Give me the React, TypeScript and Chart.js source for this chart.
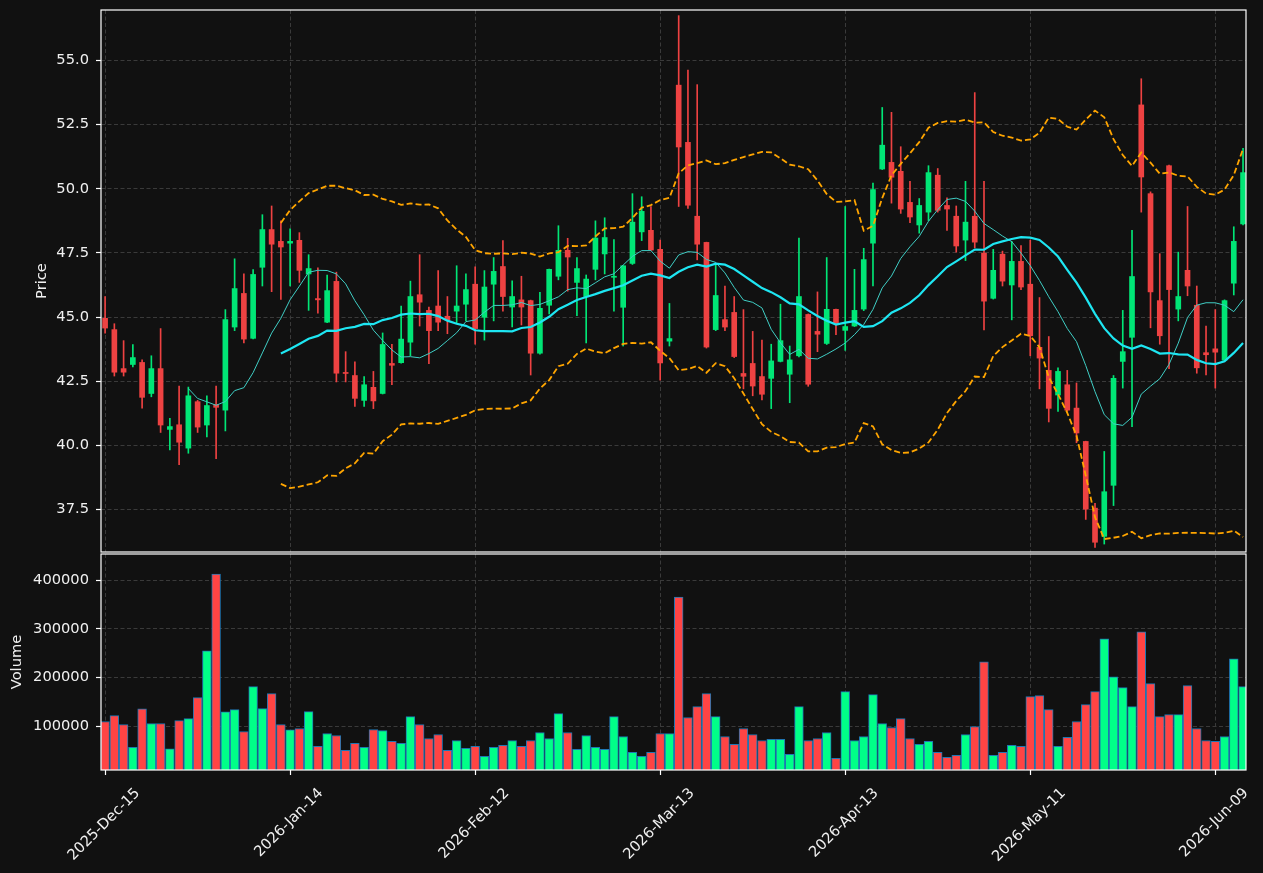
import React, { useEffect, useRef } from 'react';
import { Chart, registerables } from 'chart.js';

Chart.register(...registerables);

// ---------- data ----------
const opens = [
  44.95, 44.51, 42.99, 43.15, 43.23, 42.02, 42.99, 40.62, 40.80, 39.89,
  41.70, 40.79, 41.59, 41.37, 44.61, 45.92, 44.17, 46.94, 48.41, 47.95,
  47.88, 47.99, 46.68, 45.72, 44.80, 46.39, 42.84, 42.72, 41.75, 42.26,
  42.02, 43.19, 43.22, 44.02, 45.87, 45.26, 45.43, 45.03, 45.23, 45.50,
  46.28, 44.99, 46.28, 46.97, 45.39, 45.67, 45.64, 43.59, 45.46, 46.59,
  47.60, 46.35, 45.80, 46.86, 47.46, 46.55, 45.38, 47.09, 48.32, 48.38,
  47.64, 44.06, 54.04, 51.81, 48.93, 47.91, 44.51, 44.90, 45.18, 42.80,
  43.19, 42.68, 42.61, 43.27, 42.77, 43.49, 45.10, 44.44, 43.97, 45.30,
  44.48, 44.65, 45.31, 47.88, 50.77, 51.03, 50.68, 49.47, 48.59, 49.09,
  50.53, 49.35, 48.93, 48.00, 48.93, 47.49, 45.73, 47.45, 46.25, 47.17,
  46.28, 43.82, 42.92, 41.96, 42.36, 41.45, 40.15, 37.55, 36.45, 38.44,
  43.27, 44.21, 53.27, 49.81, 45.64, 50.90, 45.31, 46.82, 45.46, 43.61,
  43.76, 43.32, 46.32, 48.63,
];
const highs = [
  45.80, 44.74, 44.08, 43.93, 43.33, 43.49, 44.55, 41.05, 42.31, 42.27,
  41.75, 41.93, 42.31, 45.29, 47.27, 46.68, 46.85, 48.99, 49.33, 48.75,
  48.44, 48.29, 47.43, 46.92, 46.64, 46.75, 43.65, 43.25, 42.68, 42.88,
  44.38, 43.94, 45.43, 46.40, 47.43, 45.39, 46.81, 45.80, 47.00, 46.68,
  46.96, 46.81, 47.32, 47.98, 46.41, 46.59, 45.66, 45.96, 46.87, 48.56,
  48.07, 47.32, 46.64, 48.75, 48.87, 48.02, 47.00, 49.81, 49.69, 49.31,
  48.00, 45.53, 56.75, 54.63, 54.06, 47.92, 47.09, 46.21, 45.80, 45.29,
  44.44, 44.10, 43.94, 45.50, 43.87, 48.08, 45.12, 45.98, 47.32, 45.31,
  49.31, 46.86, 47.68, 50.22, 53.17, 52.98, 51.64, 50.29, 49.62, 50.90,
  50.79, 49.65, 49.33, 50.29, 53.75, 50.29, 47.64, 47.57, 47.95, 47.79,
  48.00, 45.76, 44.24, 43.02, 42.92, 42.43, 40.16, 37.74, 39.76, 42.72,
  45.26, 48.38, 54.29, 49.88, 47.47, 50.92, 47.53, 49.31, 46.21, 44.65,
  45.29, 45.67, 48.52, 51.58,
];
const lows = [
  44.37, 42.70, 42.70, 43.06, 41.45, 41.89, 40.50, 39.82, 39.24, 39.69,
  40.50, 40.33, 39.48, 40.56, 44.47, 43.99, 44.15, 46.21, 45.99, 45.69,
  46.21, 46.35, 45.26, 45.15, 44.78, 42.47, 42.47, 41.52, 41.52, 41.43,
  42.00, 42.36, 43.20, 43.49, 44.65, 43.18, 44.47, 44.35, 44.78, 44.85,
  43.94, 44.10, 44.85, 45.23, 44.61, 44.69, 42.74, 43.55, 45.12, 46.45,
  46.01, 45.05, 43.99, 46.45, 46.68, 45.23, 43.87, 47.05, 47.98, 47.60,
  42.54, 43.87, 49.31, 49.23, 47.23, 43.79, 44.47, 44.47, 43.42, 42.20,
  41.93, 41.77, 41.43, 43.25, 41.66, 43.45, 42.30, 43.65, 43.93, 44.31,
  43.70, 44.63, 45.25, 46.21, 50.75, 49.44, 49.04, 48.68, 48.27, 48.76,
  49.09, 48.38, 47.53, 47.20, 47.70, 44.50, 45.70, 46.21, 44.89, 46.07,
  43.49, 42.20, 40.91, 41.32, 41.32, 40.10, 37.11, 36.02, 36.15, 37.65,
  42.23, 40.73, 49.09, 44.58, 43.94, 42.99, 44.85, 45.83, 42.81, 42.74,
  42.23, 43.30, 45.86, 48.59,
];
const closes = [
  44.57, 42.85, 42.85, 43.42, 41.87, 42.99, 40.79, 40.73, 40.12, 41.93,
  40.71, 41.55, 41.48, 44.90, 46.11, 44.14, 46.66, 48.41, 47.84, 47.73,
  47.95, 46.82, 46.89, 45.67, 46.03, 42.81, 42.80, 41.83, 42.36, 41.73,
  43.93, 43.12, 44.14, 45.80, 45.58, 44.47, 44.80, 44.88, 45.43, 46.07,
  44.55, 46.17, 46.78, 45.80, 45.80, 45.39, 43.59, 45.34, 46.86, 47.60,
  47.34, 46.89, 46.48, 48.08, 48.10, 46.59, 47.00, 48.70, 49.12, 47.61,
  43.21, 44.16, 51.63, 49.36, 47.84, 43.83, 45.84, 44.61, 43.46, 42.69,
  42.31, 41.99, 43.29, 44.08, 43.33, 45.80, 42.38, 44.33, 45.30, 44.74,
  44.63, 45.26, 47.24, 49.97, 51.70, 50.45, 49.21, 48.90, 49.35, 50.63,
  49.16, 49.21, 47.77, 48.70, 47.92, 45.62, 46.82, 46.40, 47.17, 46.17,
  44.27, 43.40, 41.44, 42.88, 41.37, 40.48, 37.51, 36.22, 38.19, 42.61,
  43.65, 46.58, 50.46, 45.98, 44.27, 46.07, 45.80, 46.21, 43.02, 43.53,
  43.63, 45.64, 47.95, 50.63,
];
const volumes = [
  110200, 122400, 104100, 57100, 136100, 106100, 106100, 54400, 112200, 116300,
  159200, 255100, 412200, 129900, 134700, 89800, 181600, 136700, 167300, 104100,
  93200, 95900, 130600, 59200, 85700, 81600, 51000, 65300, 57100, 93900,
  91800, 69400, 65300, 120400, 104100, 75500, 83700, 51000, 71400, 55100,
  59200, 38800, 57100, 61200, 71400, 59200, 71400, 87800, 75500, 126500,
  87800, 53100, 81600, 57100, 53100, 120400, 79600, 46900, 38800, 46900,
  85700, 85700, 365300, 118400, 140800, 167300, 120400, 79600, 63300, 95900,
  83700, 71400, 73500, 73500, 42900, 140800, 71400, 75500, 87800, 34700,
  171400, 71400, 79600, 165300, 106100, 98000, 116300, 75500, 63300, 69400,
  46900, 36700, 40800, 83700, 100000, 232700, 40800, 46900, 61200, 59200,
  161200, 163300, 134700, 59200, 77600, 110200, 144900, 171400, 279600, 202000,
  179600, 140800, 293900, 187800, 120400, 124500, 124500, 183700, 95900, 71400,
  69400, 79600, 238800, 181600,
];
const tickIndices = [0, 20, 40, 60, 80, 100, 120];
const tickLabels = ['2025-Dec-15', '2026-Jan-14', '2026-Feb-12', '2026-Mar-13', '2026-Apr-13', '2026-May-11', '2026-Jun-09'];
const priceTicks = [37.5, 40.0, 42.5, 45.0, 47.5, 50.0, 52.5, 55.0];
const volumeTicks = [100000, 200000, 300000, 400000];
const maShortPeriod = 10;
const maLongPeriod = 20;
const bandWidthStd = 2;

// ---------- styling ----------
const BG = '#111111';
const GRID = '#3a3a3a';
const TEXT = '#f0f0f0';
const FONT = 'DejaVu Sans';
const FS = 14.67;
const UP = '#00e676';
const DOWN = '#ee4242';
const VUP = '#00ff88';
const VDOWN = '#ff4444';

const X_MIN = -0.443;
const X_MAX = 123.32;

function sma(src: number[], n: number): (number | null)[] {
  return src.map((_, i) => {
    if (i < n - 1) return null;
    let s = 0;
    for (let k = i - n + 1; k <= i; k++) s += src[k];
    return s / n;
  });
}
function rollingStd(src: number[], n: number): (number | null)[] {
  return src.map((_, i) => {
    if (i < n - 1) return null;
    let s = 0;
    for (let k = i - n + 1; k <= i; k++) s += src[k];
    const m = s / n;
    let v = 0;
    for (let k = i - n + 1; k <= i; k++) v += (src[k] - m) * (src[k] - m);
    return Math.sqrt(v / n);
  });
}
const toPts = (arr: (number | null)[]) =>
  arr.map((v, i) => (v == null ? null : { x: i, y: v })).filter((p) => p !== null) as { x: number; y: number }[];

const framePlugin = {
  id: 'frame',
  afterDraw(chart: any) {
    const { left, top, right, bottom } = chart.chartArea;
    const ctx = chart.ctx;
    ctx.save();
    ctx.strokeStyle = '#ffffff';
    ctx.lineWidth = 1.2;
    ctx.strokeRect(left, top, right - left, bottom - top);
    ctx.restore();
  },
};

const dateLabelPlugin = {
  id: 'dateLabels',
  afterDraw(chart: any) {
    const ctx = chart.ctx;
    const xs = chart.scales.x;
    const base = chart.chartArea.bottom + 15;
    ctx.save();
    ctx.font = `${FS}px "${FONT}"`;
    ctx.fillStyle = TEXT;
    ctx.textAlign = 'center';
    ctx.textBaseline = 'middle';
    tickIndices.forEach((v, k) => {
      const t = tickLabels[k];
      const w = ctx.measureText(t).width;
      const x = xs.getPixelForValue(v) - 1;
      const cy = base + (w + 17) / (2 * Math.SQRT2);
      ctx.save();
      ctx.translate(x, cy);
      ctx.rotate(-Math.PI / 4);
      ctx.fillText(t, 0, 0);
      ctx.restore();
    });
    ctx.restore();
  },
};

function xScale(drawTicks: boolean, height: number) {
  return {
    type: 'linear',
    min: X_MIN,
    max: X_MAX,
    offset: false,
    afterBuildTicks: (s: any) => {
      s.ticks = tickIndices.map((v) => ({ value: v }));
    },
    afterFit: (s: any) => {
      s.height = height;
    },
    ticks: { display: false },
    grid: { offset: false, color: GRID, lineWidth: 1, drawTicks, tickLength: 5, tickColor: '#ffffff', tickWidth: 1.2 },
    border: { display: false, dash: [4, 2.5] },
  };
}

function yScale(opts: any) {
  return {
    type: 'linear',
    position: 'left',
    min: opts.min,
    max: opts.max,
    afterBuildTicks: (s: any) => {
      s.ticks = opts.ticks.map((v: number) => ({ value: v }));
    },
    afterFit: (s: any) => {
      s.width = 101;
    },
    ticks: {
      color: TEXT,
      padding: 7,
      font: { family: FONT, size: FS },
      callback: opts.fmt,
    },
    grid: { color: GRID, lineWidth: 1, drawTicks: true, tickLength: 5, tickColor: '#ffffff', tickWidth: 1.2 },
    border: { display: false, dash: [4, 2.5] },
    title: {
      display: true,
      text: opts.title,
      color: TEXT,
      font: { family: FONT, size: FS },
      padding: { top: opts.titlePad, bottom: 0 },
    },
  };
}

export default function App() {
  const priceRef = useRef<HTMLCanvasElement>(null);
  const volRef = useRef<HTMLCanvasElement>(null);

  useEffect(() => {
    const n = closes.length;
    const isUp = closes.map((c, i) => c >= opens[i]);
    const candleColors = isUp.map((u) => (u ? UP : DOWN));
    const volColors = isUp.map((u) => (u ? VUP : VDOWN));

    const bodies = closes.map((c, i) => ({ x: i, y: [opens[i], c] }));
    const wicks = closes.map((_, i) => ({ x: i, y: [lows[i], highs[i]] }));
    const maShort = sma(closes, maShortPeriod);
    const maLong = sma(closes, maLongPeriod);
    const sd = rollingStd(closes, maLongPeriod);
    const upper = maLong.map((m, i) => (m == null ? null : m + bandWidthStd * (sd[i] as number)));
    const lower = maLong.map((m, i) => (m == null ? null : m - bandWidthStd * (sd[i] as number)));
    const vols = volumes.slice(0, n).map((v, i) => ({ x: i, y: v }));

    const lineBase = { type: 'line', pointRadius: 0, tension: 0, fill: false, order: 0 };

    const priceChart = new Chart(priceRef.current as HTMLCanvasElement, {
      type: 'bar',
      data: {
        datasets: [
          { ...lineBase, label: 'BB upper', data: toPts(upper), borderColor: '#ffa500', borderWidth: 1.8, borderDash: [6, 3] },
          { ...lineBase, label: 'BB lower', data: toPts(lower), borderColor: '#ffa500', borderWidth: 1.8, borderDash: [6, 3] },
          { ...lineBase, label: 'MA20', data: toPts(maLong), borderColor: '#1ee6f2', borderWidth: 2.2 },
          { ...lineBase, label: 'MA10', data: toPts(maShort), borderColor: '#40cfc6', borderWidth: 1 },
          {
            type: 'bar',
            label: 'body',
            data: bodies,
            backgroundColor: candleColors,
            borderWidth: 0,
            barThickness: 5,
            grouped: false,
            order: 1,
          },
          {
            type: 'bar',
            label: 'wick',
            data: wicks,
            backgroundColor: candleColors,
            borderWidth: 0,
            barThickness: 1,
            grouped: false,
            order: 2,
          },
        ],
      } as any,
      options: {
        responsive: false,
        maintainAspectRatio: false,
        animation: false,
        layout: { padding: { top: 30, right: 17, left: 0, bottom: 0 } },
        plugins: { legend: { display: false }, tooltip: { enabled: false } },
        scales: {
          x: xScale(false, 30),
          y: yScale({ min: 35.84, max: 56.97, ticks: priceTicks, fmt: (v: any) => Number(v).toFixed(1), title: 'Price', titlePad: 33 }),
        },
      } as any,
      plugins: [framePlugin],
    });

    const volChart = new Chart(volRef.current as HTMLCanvasElement, {
      type: 'bar',
      data: {
        datasets: [
          {
            label: 'Volume',
            data: vols,
            backgroundColor: volColors,
            borderColor: '#1f77b4',
            borderWidth: 1,
            barThickness: 8.8,
            grouped: false,
          },
        ],
      } as any,
      options: {
        responsive: false,
        maintainAspectRatio: false,
        animation: false,
        layout: { padding: { top: 30, right: 17, left: 0, bottom: 0 } },
        plugins: { legend: { display: false }, tooltip: { enabled: false } },
        scales: {
          x: xScale(true, 103),
          y: yScale({ min: 10900, max: 453400, ticks: volumeTicks, fmt: (v: any) => String(Math.round(Number(v))), title: 'Volume', titlePad: 8 }),
        },
      } as any,
      plugins: [framePlugin, dateLabelPlugin],
    });

    return () => {
      priceChart.destroy();
      volChart.destroy();
    };
  }, []);

  return (
    <div style={{ position: 'absolute', left: 0, top: 0, width: 1263, height: 873, overflow: 'hidden', background: BG }}>
      <canvas ref={priceRef} width={1263} height={602} style={{ position: 'absolute', left: 0, top: -20, width: 1263, height: 602 }} />
      <canvas ref={volRef} width={1263} height={349} style={{ position: 'absolute', left: 0, top: 524, width: 1263, height: 349 }} />
    </div>
  );
}
